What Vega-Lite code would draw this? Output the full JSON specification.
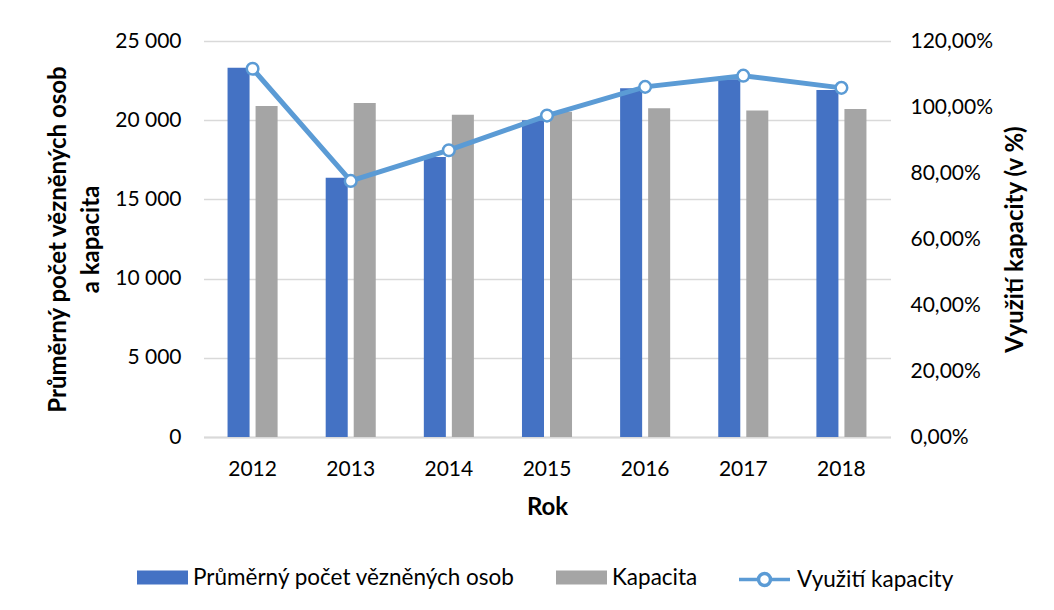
{
  "$schema": "https://vega.github.io/schema/vega-lite/v6.json",
  "width": 687,
  "height": 396,
  "autosize": "none",
  "padding": {"left": 203.5, "top": 41, "right": 163.5, "bottom": 173},
  "background": "white",
  "config": {
    "locale": {"number": {"decimal": ",", "thousands": " ", "grouping": [3], "currency": ["", " Kč"]}},
    "font": "Lato",
    "view": {"stroke": null},
    "axis": {
      "labelFont": "Lato", "labelFontSize": 21, "labelColor": "#000",
      "titleFont": "Lato", "titleFontWeight": "bold", "titleFontSize": 24, "titleColor": "#000",
      "ticks": false, "tickSize": 0, "domain": false, "grid": false
    },
    "legend": {
      "orient": "none", "direction": "horizontal", "title": null,
      "labelFont": "Lato", "labelFontSize": 22.5, "labelColor": "#000", "labelLimit": 0,
      "labelOffset": 5, "columnPadding": 40, "symbolSize": 2601
    }
  },
  "datasets": {
    "bars": [
      {"rok": "2012", "serie": "Průměrný počet vězněných osob", "hodnota": 23310},
      {"rok": "2012", "serie": "Kapacita", "hodnota": 20900},
      {"rok": "2013", "serie": "Průměrný počet vězněných osob", "hodnota": 16370},
      {"rok": "2013", "serie": "Kapacita", "hodnota": 21090},
      {"rok": "2014", "serie": "Průměrný počet vězněných osob", "hodnota": 17680},
      {"rok": "2014", "serie": "Kapacita", "hodnota": 20350},
      {"rok": "2015", "serie": "Průměrný počet vězněných osob", "hodnota": 20000},
      {"rok": "2015", "serie": "Kapacita", "hodnota": 20540},
      {"rok": "2016", "serie": "Průměrný počet vězněných osob", "hodnota": 22010},
      {"rok": "2016", "serie": "Kapacita", "hodnota": 20750},
      {"rok": "2017", "serie": "Průměrný počet vězněných osob", "hodnota": 22580},
      {"rok": "2017", "serie": "Kapacita", "hodnota": 20620},
      {"rok": "2018", "serie": "Průměrný počet vězněných osob", "hodnota": 21910},
      {"rok": "2018", "serie": "Kapacita", "hodnota": 20710}
    ],
    "line": [
      {"rok": "2012", "serie": "Využití kapacity", "vyuziti": 1.116},
      {"rok": "2013", "serie": "Využití kapacity", "vyuziti": 0.776},
      {"rok": "2014", "serie": "Využití kapacity", "vyuziti": 0.869},
      {"rok": "2015", "serie": "Využití kapacity", "vyuziti": 0.974},
      {"rok": "2016", "serie": "Využití kapacity", "vyuziti": 1.061},
      {"rok": "2017", "serie": "Využití kapacity", "vyuziti": 1.095},
      {"rok": "2018", "serie": "Využití kapacity", "vyuziti": 1.058}
    ]
  },
  "layer": [
    {
      "data": {"name": "bars"},
      "mark": {"type": "bar"},
      "encoding": {
        "x": {
          "field": "rok", "type": "nominal",
          "scale": {"paddingInner": 0.49, "paddingOuter": 0.245},
          "axis": {"title": "Rok", "labelAngle": 0, "labelPadding": 21.5, "titlePadding": 16,
                   "domain": true, "domainColor": "#D9D9D9", "domainWidth": 2}
        },
        "xOffset": {
          "field": "serie", "type": "nominal",
          "sort": ["Průměrný počet vězněných osob", "Kapacita"],
          "scale": {"paddingInner": 0.214, "paddingOuter": 0}
        },
        "y": {
          "field": "hodnota", "type": "quantitative",
          "scale": {"domain": [0, 25000], "nice": false},
          "axis": {
            "title": ["Průměrný počet vězněných osob", "a kapacita"],
            "values": [0, 5000, 10000, 15000, 20000, 25000],
            "format": ",d", "labelPadding": 22.5, "titlePadding": 11, "titleLineHeight": 33,
            "grid": true, "gridColor": "#D9D9D9", "gridWidth": 1.5
          }
        },
        "color": {
          "field": "serie", "type": "nominal",
          "scale": {"domain": ["Průměrný počet vězněných osob", "Kapacita"], "range": ["#4472C4", "#A5A5A5"]},
          "legend": {"symbolType": "M-1,-0.2745H1V0.2745H-1Z", "symbolStrokeWidth": 0, "legendX": -66.5, "legendY": 511}
        }
      }
    },
    {
      "data": {"name": "line"},
      "encoding": {
        "x": {"field": "rok", "type": "nominal"},
        "y": {
          "field": "vyuziti", "type": "quantitative",
          "scale": {"domain": [0, 1.2], "nice": false},
          "axis": {
            "orient": "right", "title": "Využití kapacity (v %)",
            "values": [0, 0.2, 0.4, 0.6, 0.8, 1, 1.2], "format": ".2%",
            "labelPadding": 19.5, "titlePadding": 35, "titleAngle": 270
          }
        }
      },
      "layer": [
        {
          "mark": {"type": "line", "strokeWidth": 5},
          "encoding": {
            "stroke": {
              "field": "serie", "type": "nominal",
              "scale": {"domain": ["Využití kapacity"], "range": ["#5B9BD5"]},
              "legend": {
                "symbolType": "M-1,0H-0.235M0.235,0H1M-0.235,0A0.235,0.235,0,1,1,0.235,0A0.235,0.235,0,1,1,-0.235,0",
                "symbolStrokeWidth": 3.5, "symbolFillColor": "white",
                "legendX": 533.5, "legendY": 511,
                "encode": {"symbols": {"update": {"fill": {"value": "white"}}}}
              }
            }
          }
        },
        {
          "mark": {"type": "point", "shape": "circle", "filled": true, "fill": "white", "stroke": "#5B9BD5", "strokeWidth": 2.5, "size": 135, "opacity": 1}
        }
      ]
    }
  ],
  "resolve": {"scale": {"y": "independent"}}
}
